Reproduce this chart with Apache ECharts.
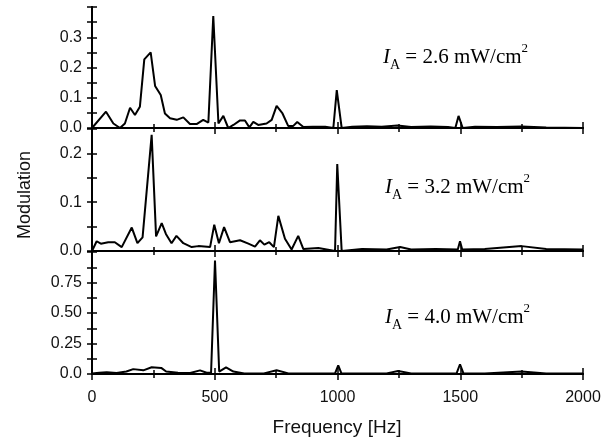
<!DOCTYPE html>
<html>
<head>
<meta charset="utf-8">
<script src="https://cdn.jsdelivr.net/npm/echarts@6/dist/echarts.min.js"></script>
<style>html,body{margin:0;padding:0;background:#fff;}#c{width:604px;height:445px;}</style>
</head>
<body>
<div id="c"></div>
<script>
// ---- data ----
const xTicks = [0, 500, 1000, 1500, 2000];
const panelLabels = ['2.6', '3.2', '4.0'];

const freqA = [0, 57, 87, 114, 134, 155, 175, 195, 213, 239, 257, 280, 297, 318, 345, 372, 399, 426, 453, 474, 494, 515, 535, 555, 576, 603, 623, 641, 657, 677, 711, 732, 752, 776, 799, 820, 836, 861, 900, 950, 983, 997, 1017, 1060, 1120, 1180, 1244, 1300, 1380, 1450, 1480, 1493, 1510, 1560, 1650, 1750, 1850, 2000];
const modA  = [0.0, 0.054, 0.015, 0.0, 0.015, 0.067, 0.043, 0.07, 0.227, 0.25, 0.139, 0.109, 0.048, 0.032, 0.027, 0.035, 0.013, 0.013, 0.027, 0.018, 0.37, 0.015, 0.04, 0.0, 0.01, 0.025, 0.025, 0.002, 0.02, 0.01, 0.015, 0.027, 0.073, 0.048, 0.007, 0.007, 0.02, 0.003, 0.004, 0.004, 0.0, 0.125, 0.0, 0.004, 0.006, 0.004, 0.008, 0.003, 0.005, 0.003, 0.0, 0.04, 0.0, 0.004, 0.003, 0.005, 0.002, 0.0];

const freqB = [0, 5, 19, 36, 66, 93, 121, 162, 185, 206, 243, 261, 284, 301, 324, 344, 372, 406, 433, 481, 498, 517, 538, 562, 603, 637, 664, 684, 702, 722, 741, 759, 786, 813, 840, 861, 922, 990, 999, 1017, 1100, 1200, 1255, 1300, 1400, 1490, 1499, 1508, 1600, 1750, 1850, 2000];
const modB  = [0.0, 0.0, 0.02, 0.015, 0.018, 0.018, 0.008, 0.048, 0.016, 0.028, 0.238, 0.03, 0.057, 0.035, 0.016, 0.031, 0.016, 0.008, 0.01, 0.008, 0.054, 0.016, 0.049, 0.018, 0.022, 0.015, 0.009, 0.022, 0.013, 0.018, 0.008, 0.072, 0.025, 0.003, 0.031, 0.004, 0.006, 0.0, 0.178, 0.0, 0.004, 0.003, 0.008, 0.003, 0.004, 0.003, 0.02, 0.003, 0.004, 0.01, 0.004, 0.003];

const freqC = [0, 30, 60, 100, 140, 168, 209, 243, 282, 302, 350, 400, 440, 467, 485, 501, 518, 546, 576, 620, 700, 752, 800, 900, 990, 1003, 1016, 1100, 1200, 1247, 1300, 1400, 1485, 1499, 1513, 1600, 1750, 1850, 2000];
const modC  = [0.005, 0.01, 0.015, 0.008, 0.02, 0.04, 0.03, 0.055, 0.05, 0.02, 0.01, 0.008, 0.03, 0.01, 0.01, 0.93, 0.02, 0.055, 0.02, 0.005, 0.005, 0.03, 0.005, 0.005, 0.005, 0.07, 0.005, 0.005, 0.005, 0.025, 0.005, 0.005, 0.005, 0.08, 0.005, 0.005, 0.02, 0.005, 0.005];

const yMax = [0.4, 0.25, 1.0];
const yInterval = [0.05, 0.05, 0.125];

// ---- chart ----
const sans = "'Liberation Sans', Arial, sans-serif";
const serif = "'Liberation Serif', 'Times New Roman', serif";
const grids = [
  {left: 92, right: 21, top: 7, height: 121},
  {left: 92, right: 21, top: 129, height: 122},
  {left: 92, right: 21, top: 252, height: 122}
];
const line = {show: true, lineStyle: {color: '#000', width: 2}};
const xAxes = [], yAxes = [], series = [];
const datasets = [[freqA, modA], [freqB, modB], [freqC, modC]];

function yFmt(i) {
  return function (v) {
    const r = Math.round(v * 1000) / 1000;
    if (i < 2) {
      if (Math.abs(r * 10 - Math.round(r * 10)) > 1e-6) return '';
      if (r >= yMax[i] - 1e-9) return '';
      return r.toFixed(1);
    } else {
      if (Math.abs(r * 4 - Math.round(r * 4)) > 1e-6) return '';
      if (r >= yMax[i] - 1e-9) return '';
      return r === 0 ? '0.0' : r.toFixed(2);
    }
  };
}

for (let i = 0; i < 3; i++) {
  xAxes.push({
    type: 'value', gridIndex: i, position: 'bottom', min: xTicks[0], max: xTicks[xTicks.length - 1], interval: 500,
    axisLine: line,
    axisTick: {show: true, inside: true, length: 6, lineStyle: {color: '#000', width: 1.5}},
    minorTick: {show: true, splitNumber: 2, length: 4, lineStyle: {color: '#000', width: 1.5}},
    splitLine: {show: false},
    axisLabel: {show: i === 2, color: '#111', fontFamily: sans, fontSize: 16, margin: 16, formatter: v => String(v)}
  });
  xAxes.push({
    type: 'value', gridIndex: i, position: 'top', min: xTicks[0], max: xTicks[xTicks.length - 1], interval: 500,
    axisLine: line,
    axisTick: {show: true, inside: true, length: 6, lineStyle: {color: '#000', width: 1.5}},
    minorTick: {show: true, splitNumber: 2, length: 4, lineStyle: {color: '#000', width: 1.5}},
    splitLine: {show: false},
    axisLabel: {show: false}
  });
  yAxes.push({
    type: 'value', gridIndex: i, position: 'left', min: 0, max: yMax[i], interval: yInterval[i],
    axisLine: line,
    axisTick: {show: true, inside: true, length: 5, lineStyle: {color: '#000', width: 1.5}},
    splitLine: {show: false},
    axisLabel: {show: true, color: '#111', fontFamily: sans, fontSize: 16, margin: 10, formatter: yFmt(i)}
  });
  yAxes.push({
    type: 'value', gridIndex: i, position: 'right', min: 0, max: yMax[i], interval: yInterval[i],
    axisLine: line,
    axisTick: {show: true, inside: true, length: 5, lineStyle: {color: '#000', width: 1.5}},
    splitLine: {show: false},
    axisLabel: {show: false}
  });
  const [fs, ms] = datasets[i];
  series.push({
    type: 'line', xAxisIndex: i * 2, yAxisIndex: i * 2, symbol: 'none', smooth: false,
    lineStyle: {color: '#000', width: 2}, z: 3,
    data: fs.map((f, k) => [f, ms[k]])
  });
}

function annot(label, x, y) {
  return {
    type: 'text', left: x, top: y,
    style: {
      text: '{i|I}{sub|A}{n| = ' + label + ' mW/cm}{sup|2}',
      rich: {
        i: {fontFamily: serif, fontStyle: 'italic', fontSize: 21, lineHeight: 30, verticalAlign: 'middle', fill: '#000'},
        sub: {fontFamily: serif, fontSize: 14, lineHeight: 30, verticalAlign: 'bottom', fill: '#000'},
        n: {fontFamily: serif, fontSize: 21, lineHeight: 30, verticalAlign: 'middle', fill: '#000'},
        sup: {fontFamily: serif, fontSize: 13, lineHeight: 30, verticalAlign: 'top', fill: '#000'}
      }
    }
  };
}

const chart = echarts.init(document.getElementById('c'), null, {renderer: 'canvas'});
chart.setOption({
  animation: false,
  backgroundColor: '#fff',
  grid: grids,
  xAxis: xAxes,
  yAxis: yAxes,
  series: series,
  graphic: [
    annot(panelLabels[0], 383, 42),
    annot(panelLabels[1], 385, 172),
    annot(panelLabels[2], 385, 302),
    {type: 'text', x: 25, y: 195, rotation: Math.PI / 2,
      style: {text: 'Modulation', fontFamily: sans, fontSize: 18, fill: '#111', align: 'center', verticalAlign: 'middle'}},
    {type: 'text', x: 337, y: 428,
      style: {text: 'Frequency [Hz]', fontFamily: sans, fontSize: 19, fill: '#111', align: 'center', verticalAlign: 'middle'}}
  ]
});
</script>
</body>
</html>
